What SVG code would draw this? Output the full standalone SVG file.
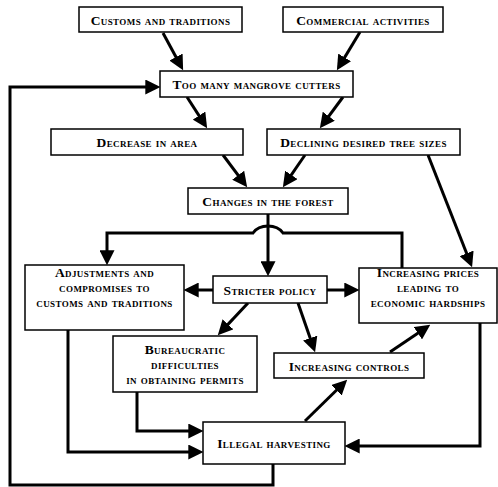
<svg xmlns="http://www.w3.org/2000/svg" width="498" height="487" viewBox="0 0 498 487">
<style>
.box{fill:#fff;stroke:#000;stroke-width:1.5}
text{font-family:"Liberation Serif","Times New Roman",serif;font-weight:bold;font-variant:small-caps;font-size:13.5px;letter-spacing:0.4px;text-anchor:middle;fill:#000}
.c{fill:none;stroke:#000;stroke-width:3}
</style>
<defs>
<marker id="a" markerUnits="userSpaceOnUse" markerWidth="15" markerHeight="15" refX="10" refY="7" orient="auto" viewBox="0 0 14 14"><path d="M0,0 L14,7 L0,14 z" fill="#000"/></marker>
</defs>
<rect width="498" height="487" fill="#fff"/>
<g id="connectors">
<path class="c" marker-end="url(#a)" d="M163,33 L181.1,66.5"/>
<path class="c" marker-end="url(#a)" d="M360,32 L339.1,66.6"/>
<path class="c" marker-end="url(#a)" d="M187,97 L204.8,124.6"/>
<path class="c" marker-end="url(#a)" d="M343,97 L322.4,124.8"/>
<path class="c" marker-end="url(#a)" d="M223,155 L244.6,183.8"/>
<path class="c" marker-end="url(#a)" d="M305,155 L285.3,183.7"/>
<path class="c" marker-end="url(#a)" d="M428,155 L470.5,263.3"/>
<path class="c" marker-end="url(#a)" d="M268,214 L268,272"/>
<path class="c" marker-end="url(#a)" d="M402,268 V233 H283 Q278,226 268,226 Q258,226 253,233 H107 V261"/>
<path class="c" marker-end="url(#a)" d="M213,290 H188"/>
<path class="c" marker-end="url(#a)" d="M327,290 H355"/>
<path class="c" marker-end="url(#a)" d="M248,303 L220.7,332.1"/>
<path class="c" marker-end="url(#a)" d="M298,303 L313.7,348.2"/>
<path class="c" marker-end="url(#a)" d="M390,352 L426.7,327.2"/>
<path class="c" marker-end="url(#a)" d="M305,421 L344.1,382.8"/>
<path class="c" marker-end="url(#a)" d="M68,330 V452 H199"/>
<path class="c" marker-end="url(#a)" d="M137,392 V431 H199"/>
<path class="c" marker-end="url(#a)" d="M480,323 V446 H349"/>
<path class="c" marker-end="url(#a)" d="M273,464 V485 H10 V87 H156"/>
</g>
<g id="customs"><rect class="box" x="79" y="7" width="163" height="25"/><text x="160.5" y="24.5">Customs and traditions</text></g>
<g id="commercial"><rect class="box" x="283" y="7" width="160" height="25"/><text x="363" y="24.5">Commercial activities</text></g>
<g id="cutters"><rect class="box" x="160" y="71" width="193" height="26"/><text x="256.5" y="89">Too many mangrove cutters</text></g>
<g id="decrease"><rect class="box" x="51" y="129" width="192" height="26"/><text x="147" y="147">Decrease in area</text></g>
<g id="declining"><rect class="box" x="267" y="129" width="193" height="26"/><text x="363.5" y="147">Declining desired tree sizes</text></g>
<g id="changes"><rect class="box" x="188" y="188" width="160" height="26"/><text x="268" y="206">Changes in the forest</text></g>
<g id="adjustments"><rect class="box" x="25" y="265" width="159" height="65"/><text x="104.5" y="276.5">Adjustments and</text><text x="104.5" y="291.5">compromises to</text><text x="104.5" y="306.5">customs and traditions</text></g>
<g id="stricter"><rect class="box" x="213" y="276" width="114" height="27"/><text x="270" y="294.5">Stricter policy</text></g>
<g id="prices"><rect class="box" x="359" y="268" width="138" height="55"/><text x="428" y="276.5">Increasing prices</text><text x="428" y="291.5">leading to</text><text x="428" y="306.5">economic hardships</text></g>
<g id="bureaucratic"><rect class="box" x="113" y="336" width="144" height="56"/><text x="185" y="353.5">Bureaucratic</text><text x="185" y="368.5">difficulties</text><text x="185" y="383.5">in obtaining permits</text></g>
<g id="controls"><rect class="box" x="274" y="353" width="150" height="25"/><text x="349" y="370.5">Increasing controls</text></g>
<g id="illegal"><rect class="box" x="203" y="422" width="142" height="42"/><text x="274" y="448">Illegal harvesting</text></g>
</svg>
